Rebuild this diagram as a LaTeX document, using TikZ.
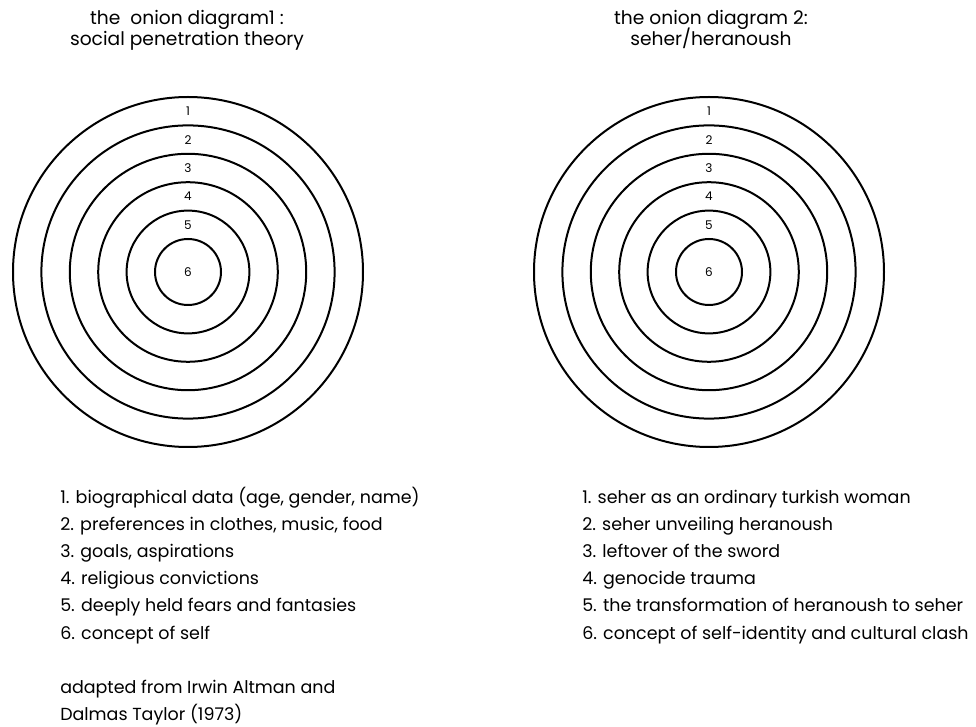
\documentclass[tikz,border=0pt]{standalone}
\usepackage{fontspec}
\setmainfont{Poppins}
\usetikzlibrary{positioning}

\begin{document}
\begin{tikzpicture}[x=0.75pt,y=-0.75pt,
  ring/.style={line width=1.5pt},
  ringnum/.style={inner sep=0pt,font=\fontsize{9}{10}\selectfont},
  heading/.style={inner sep=0pt,anchor=base,font=\fontsize{14}{16}\selectfont},
  item/.style={inner sep=0pt,anchor=base west,font=\fontsize{13.1}{16}\selectfont}]
\useasboundingbox (0,0) rectangle (976,727);

% headings
\node[heading] (sptA) at (187,25) {the\ \ onion diagram1 :};
\node[heading] (sptB) at (187,46) {social penetration theory};
\node[heading] (shA) at (711,25) {the onion diagram 2:};
\node[heading] (shB) at (711,46) {seher/heranoush};

% the two onions
\coordinate (spt) at (188,272);
\coordinate (sh) at (709,272);
\foreach \k in {1,...,6}{
  \draw[ring] (spt) circle ({175-28.4*(\k-1)});
  \draw[ring] (sh) circle ({175-28.4*(\k-1)});
}
\foreach \k in {1,...,5}{
  \node[ringnum] (sptnum\k) at ([yshift={0.75pt*(160.5-28.4*(\k-1))}]spt) {\k};
  \node[ringnum] (shnum\k) at ([yshift={0.75pt*(160.5-28.4*(\k-1))}]sh) {\k};
}
\node[ringnum] (sptnum6) at (spt) {6};
\node[ringnum] (shnum6) at (sh) {6};

% legends
\foreach \txt [count=\i] in {{1. biographical data (age, gender, name)},
  {2. preferences in clothes, music, food},{3. goals, aspirations},
  {4. religious convictions},{5. deeply held fears and fantasies},
  {6. concept of self}}
  \node[item] (sptitem\i) at (60,{504+27*(\i-1)}) {\txt};
\foreach \txt [count=\i] in {{1. seher as an ordinary turkish woman},
  {2. seher unveiling heranoush},{3. leftover of the sword},
  {4. genocide trauma},{5. the transformation of heranoush to seher},
  {6. concept of self-identity and cultural clash}}
  \node[item] (shitem\i) at (582,{504+27*(\i-1)}) {\txt};
\node[item] (srcA) at (60,693) {adapted from Irwin Altman and};
\node[item] (srcB) at (60,720) {Dalmas Taylor (1973)};
\end{tikzpicture}
\end{document}
